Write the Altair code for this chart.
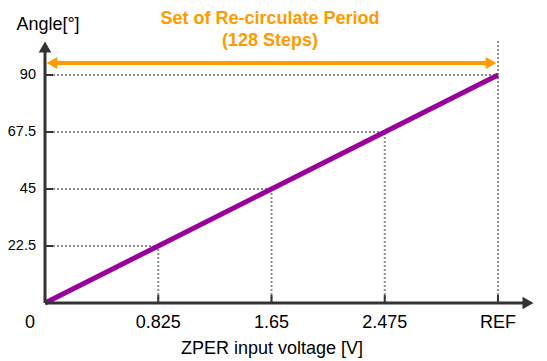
import altair as alt
import pandas as pd

voltages = [0, 0.825, 1.65, 2.475, 3.3]
angles = [0, 22.5, 45, 67.5, 90]
x_labels = ["0", "0.825", "1.65", "2.475", "REF"]
y_labels = ["", "22.5", "45", "67.5", "90"]

W, H = 490, 263
XMAX = 3.3 * 490 / 453
YMAX = 90 * 263 / 228

df = pd.DataFrame({"v": voltages, "a": angles, "xl": x_labels, "yl": y_labels})
guides = df[df.a > 0].copy()
guides["top"] = [a if a < 90 else YMAX for a in guides.a]
one = pd.DataFrame({"k": [0]})

xs = alt.Scale(domain=[0, XMAX], nice=False, zero=False)
ys = alt.Scale(domain=[0, YMAX], nice=False, zero=False)
FONT = "Liberation Sans"
FS = 18
AXC = "#333333"
GRAY = "#8c8c8c"
ORANGE = "#ff9a00"
PURPLE = "#990099"

single = alt.Chart(one)

h_guides = alt.Chart(guides).mark_rule(strokeDash=[2, 2], strokeWidth=2, color=GRAY).encode(
    x=alt.X("zero:Q", scale=xs, axis=None), x2="v:Q", y=alt.Y("a:Q", scale=ys, axis=None)
).transform_calculate(zero="0")
v_guides = alt.Chart(guides).mark_rule(strokeDash=[2, 2], strokeWidth=2, color=GRAY).encode(
    x=alt.X("v:Q", scale=xs, axis=None), y=alt.Y("zero:Q", scale=ys, axis=None), y2="top:Q"
).transform_calculate(zero="0")

x_ticks = alt.Chart(guides).mark_rule(strokeWidth=2, color=AXC).encode(
    x=alt.X("v:Q", scale=xs, axis=None), y=alt.value(H - 8), y2=alt.value(H)
)
y_ticks = alt.Chart(guides).mark_rule(strokeWidth=2, color=AXC).encode(
    y=alt.Y("a:Q", scale=ys, axis=None), x=alt.value(0), x2=alt.value(8)
)

x_axis = single.mark_rule(strokeWidth=3, color=AXC).encode(
    x=alt.value(0), x2=alt.value(W - 10), y=alt.value(H)
)
y_axis = single.mark_rule(strokeWidth=3, color=AXC).encode(
    x=alt.value(0), y=alt.value(H), y2=alt.value(10)
)
x_head = single.mark_point(shape="triangle-right", filled=True, size=160, color=AXC, opacity=1).encode(
    x=alt.value(W - 7), y=alt.value(H)
)
y_head = single.mark_point(shape="triangle-up", filled=True, size=160, color=AXC, opacity=1).encode(
    x=alt.value(0), y=alt.value(7)
)

line = alt.Chart(df).mark_line(strokeWidth=5, color=PURPLE).encode(
    x=alt.X("v:Q", scale=xs, axis=None), y=alt.Y("a:Q", scale=ys, axis=None)
)

arrow = single.mark_rule(strokeWidth=4, color=ORANGE).encode(
    x=alt.value(8), x2=alt.value(445), y=alt.value(23)
)
arrow_l = single.mark_point(shape="triangle-left", filled=True, size=150, color=ORANGE, opacity=1).encode(
    x=alt.value(7), y=alt.value(23)
)
arrow_r = single.mark_point(shape="triangle-right", filled=True, size=150, color=ORANGE, opacity=1).encode(
    x=alt.value(446), y=alt.value(23)
)

xlab_df = df[df.v > 0]
x_text = alt.Chart(xlab_df).mark_text(font=FONT, fontSize=FS, color="#000", baseline="middle").encode(
    x=alt.X("v:Q", scale=xs, axis=None), y=alt.value(H + 20), text="xl:N"
)
zero_text = single.mark_text(font=FONT, fontSize=FS, color="#000", baseline="middle", text="0").encode(
    x=alt.value(-15), y=alt.value(H + 20)
)
y_text = alt.Chart(df[df.a > 0]).mark_text(font=FONT, fontSize=14.5, color="#000", align="right", baseline="middle").encode(
    y=alt.Y("a:Q", scale=ys, axis=None), x=alt.value(-9), text="yl:N"
)
x_title = single.mark_text(font=FONT, fontSize=FS, color="#000", baseline="middle", text="ZPER input voltage [V]").encode(
    x=alt.value(227), y=alt.value(H + 46)
)
y_title = single.mark_text(font=FONT, fontSize=FS, color="#000", baseline="middle", text="Angle[°]").encode(
    x=alt.value(3), y=alt.value(-15)
)
t1 = single.mark_text(font=FONT, fontSize=FS, fontWeight="bold", color=ORANGE, baseline="middle", text="Set of Re-circulate Period").encode(
    x=alt.value(225), y=alt.value(-21)
)
t2 = single.mark_text(font=FONT, fontSize=FS, fontWeight="bold", color=ORANGE, baseline="middle", text="(128 Steps)").encode(
    x=alt.value(225), y=alt.value(1)
)

chart = alt.layer(
    h_guides, v_guides, x_ticks, y_ticks, line, x_axis, y_axis, x_head, y_head,
    arrow, arrow_l, arrow_r, x_text, zero_text, y_text, x_title, y_title, t1, t2
).properties(
    width=W, height=H,
    autosize=alt.AutoSizeParams(type="none"),
    padding={"left": 37, "top": 32, "right": 4, "bottom": 55},
).configure_view(stroke=None)

chart.save("out.html", embed_options={"renderer": "svg", "actions": False})
